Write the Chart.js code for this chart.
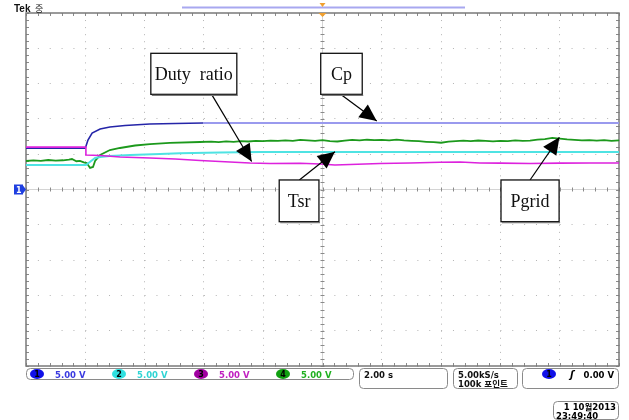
<!DOCTYPE html>
<html>
<head>
<meta charset="utf-8">
<script src="https://cdn.jsdelivr.net/npm/chart.js@4.4.0/dist/chart.umd.min.js"></script>
<style>body{margin:0;background:#fff}</style>
</head>
<body>
<canvas id="scope" width="629" height="420"></canvas>
<script>
// time in s (2 s/div, trigger at 0), value in V (5 V/div)
var cpTime = [-10, -8.0, -7.91, -7.77, -7.5, -7.17, -6.66, -5.82, -4.97, -4.03]
var cpVolt = [5.85, 5.85, 7.01, 8.0, 8.57, 8.85, 9.07, 9.28, 9.35, 9.42]
var cpHoldTime = [-4.03, 10]
var cpHoldVolt = [9.42, 9.42]

var tsrTime = [-10, -7.98, -7.67, -7.5, -7.17, -6.49, -5.48, -4.81, -3.46, -2.11, 10]
var tsrVolt = [3.47, 3.47, 4.46, 4.6, 4.75, 4.89, 5.03, 5.13, 5.24, 5.31, 5.31]

var dutyTime = [-10, -7.98, -7.98, -7.5, -6.83, -5.82, -4.97, -4.13, -3.12, -2.45, -1.77, -0.76, -0.08, 0.42, 0.93, 1.94, 2.95, 3.96, 4.64, 5.31, 5.99, 7.0, 8.01, 9.02, 10]
var dutyVolt = [6.0, 6.0, 4.89, 4.82, 4.6, 4.46, 4.32, 4.11, 3.9, 3.75, 3.68, 3.71, 3.61, 3.47, 3.54, 3.68, 3.75, 3.85, 3.9, 3.75, 3.73, 3.68, 3.73, 3.75, 3.75]

var pgridTime = [-10, -9.75, -9.5, -9.25, -9.0, -8.75, -8.55, -8.45, -8.3, -8.18, -8.05, -7.95, -7.84, -7.74, -7.67, -7.5, -7.17, -6.83, -6.32, -5.82, -5.15, -4.13,
  -3.75, -3.5, -3.25, -3.0, -2.75, -2.5, -2.25, -2.0, -1.75, -1.5, -1.25, -1.0, -0.75, -0.5, -0.25, 0.0,
  0.25, 0.5, 0.75, 1.0, 1.25, 1.5, 1.75, 2.0, 2.25, 2.5, 2.75, 3.0, 3.25, 3.5, 3.75, 4.0,
  4.25, 4.5, 4.75, 5.0, 5.25, 5.5, 5.75, 6.0, 6.25, 6.5, 6.75, 7.0, 7.25, 7.5, 7.75, 8.0,
  8.25, 8.5, 8.75, 9.0, 9.25, 9.5, 9.75, 10.0]
var pgridVolt = [4.04, 4.12, 4.06, 4.18, 4.10, 4.14, 4.22, 4.32, 4.0, 4.05, 3.85, 3.75, 3.05, 3.19, 4.04, 4.89, 5.59, 5.88, 6.23, 6.44, 6.59, 6.73,
  6.78, 6.72, 6.82, 6.76, 6.85, 6.80, 6.90, 6.84, 6.93, 6.88, 6.96, 6.90, 7.02, 6.95, 6.90, 6.98,
  6.85, 6.80, 6.92, 7.02, 6.96, 7.05, 6.98, 7.04, 6.97, 7.06, 6.95, 6.90, 6.84, 6.76, 6.70, 6.62,
  6.78, 6.85, 6.92, 6.86, 6.94, 6.88, 6.82, 6.90, 6.84, 6.95, 6.88, 6.92, 7.05, 7.15, 7.32, 7.22,
  7.10, 7.02, 6.96, 7.00, 6.92, 6.98, 6.90, 6.95]

function pts(t, v) {
  return t.map(function (x, i) { return {x: x, y: v[i]} })
}

function line(ctx, x1, y1, x2, y2) {
  ctx.beginPath(); ctx.moveTo(x1, y1); ctx.lineTo(x2, y2); ctx.stroke()
}

function rbox(ctx, x, y, w, h, r) {
  ctx.beginPath()
  ctx.moveTo(x + r, y)
  ctx.arcTo(x + w, y, x + w, y + h, r)
  ctx.arcTo(x + w, y + h, x, y + h, r)
  ctx.arcTo(x, y + h, x, y, r)
  ctx.arcTo(x, y, x + w, y, r)
  ctx.closePath()
  ctx.stroke()
}

// callout boxes, in data coordinates: [t1, v1, t2, v2], arrow from -> tip
var notes = [
  {text: 'Duty  ratio', box: [-5.79, 19.29, -2.89, 13.48], from: [-3.74, 13.48], tip: [-2.39, 3.97]},
  {text: 'Cp', box: [-0.06, 19.29, 1.34, 13.48], from: [0.61, 13.48], tip: [1.83, 9.70]},
  {text: 'Tsr', box: [-1.46, 1.35, -0.12, -4.56], from: [-0.78, 1.35], tip: [0.42, 5.35]},
  {text: 'Pgrid', box: [6.02, 1.35, 7.98, -4.56], from: [7.0, 1.35], tip: [7.99, 7.39]}
]

var scopeChrome = {
  id: 'scopeChrome',
  beforeDatasetsDraw: function (chart) {
    var ctx = chart.ctx, xs = chart.scales.x, ys = chart.scales.y, a = chart.chartArea
    var cx = xs.getPixelForValue(0), cy = ys.getPixelForValue(0)
    ctx.save()
    ctx.lineWidth = 1
    ctx.strokeStyle = '#d4d4d4'
    line(ctx, cx, a.top, cx, a.bottom)
    line(ctx, a.left, cy, a.right, cy)
    ctx.strokeStyle = '#8a8a8a'
    for (var t = -10; t <= 10.001; t += 0.4) {
      var x = Math.round(xs.getPixelForValue(t)) + 0.5
      line(ctx, x, cy - 2, x, cy + 2)
      line(ctx, x, a.top, x, a.top + 3)
      line(ctx, x, a.bottom - 3, x, a.bottom)
    }
    for (var v = -25; v <= 25.001; v += 1) {
      var y = Math.round(ys.getPixelForValue(v)) + 0.5
      line(ctx, cx - 2, y, cx + 2, y)
      line(ctx, a.left, y, a.left + 3, y)
      line(ctx, a.right - 3, y, a.right, y)
    }
    ctx.strokeStyle = '#7a7a7a'
    ctx.lineWidth = 1.5
    ctx.strokeRect(a.left, a.top, a.right - a.left, a.bottom - a.top)
    ctx.restore()
  },
  afterDraw: function (chart) {
    var ctx = chart.ctx, xs = chart.scales.x, ys = chart.scales.y, a = chart.chartArea
    ctx.save()

    // callouts
    notes.forEach(function (n) {
      var x1 = xs.getPixelForValue(n.box[0]), y1 = ys.getPixelForValue(n.box[1])
      var x2 = xs.getPixelForValue(n.box[2]), y2 = ys.getPixelForValue(n.box[3])
      var fx = xs.getPixelForValue(n.from[0]), fy = ys.getPixelForValue(n.from[1])
      var tx = xs.getPixelForValue(n.tip[0]), ty = ys.getPixelForValue(n.tip[1])
      ctx.strokeStyle = '#000'
      ctx.lineWidth = 1.2
      line(ctx, fx, fy, tx, ty)
      var ang = Math.atan2(ty - fy, tx - fx), L = 17, W = 8
      ctx.fillStyle = '#000'
      ctx.beginPath()
      ctx.moveTo(tx, ty)
      ctx.lineTo(tx - L * Math.cos(ang) + W * Math.sin(ang), ty - L * Math.sin(ang) - W * Math.cos(ang))
      ctx.lineTo(tx - L * Math.cos(ang) - W * Math.sin(ang), ty - L * Math.sin(ang) + W * Math.cos(ang))
      ctx.closePath()
      ctx.fill()
      ctx.fillStyle = '#fff'
      ctx.fillRect(x1, y1, x2 - x1, y2 - y1)
      ctx.strokeStyle = '#111'
      ctx.lineWidth = 1.3
      ctx.strokeRect(x1, y1, x2 - x1, y2 - y1)
      ctx.strokeStyle = '#777'
      line(ctx, x1 + 1, y2 + 1, x2 + 1, y2 + 1)
      ctx.fillStyle = '#111'
      ctx.font = '18px "Liberation Serif"'
      ctx.textAlign = 'center'
      ctx.textBaseline = 'middle'
      ctx.fillText(n.text, (x1 + x2) / 2, (y1 + y2) / 2 + 1)
    })

    // top row
    ctx.textAlign = 'left'
    ctx.textBaseline = 'alphabetic'
    ctx.fillStyle = '#111'
    ctx.font = 'bold 10px "Liberation Sans"'
    ctx.fillText('Tek', 14, 12)
    ctx.font = '9px "Noto Sans CJK KR"'
    ctx.fillText('중', 35, 12)
    ctx.strokeStyle = '#a8a8f0'
    ctx.lineWidth = 2
    line(ctx, 182, 7.5, 465, 7.5)
    var cx = xs.getPixelForValue(0)
    ctx.fillStyle = '#f0a030'
    ctx.beginPath(); ctx.moveTo(cx - 3, 3); ctx.lineTo(cx + 3, 3); ctx.lineTo(cx, 7); ctx.closePath(); ctx.fill()
    ctx.beginPath(); ctx.moveTo(cx - 4, a.top); ctx.lineTo(cx + 4, a.top); ctx.lineTo(cx, a.top + 4); ctx.closePath(); ctx.fill()

    // ch1 ground marker
    var gy = ys.getPixelForValue(0)
    ctx.fillStyle = '#1f3fe0'
    ctx.fillRect(14, gy - 5, 9, 10)
    ctx.beginPath(); ctx.moveTo(23, gy - 4); ctx.lineTo(26, gy); ctx.lineTo(23, gy + 4); ctx.closePath(); ctx.fill()
    ctx.fillStyle = '#fff'
    ctx.font = 'bold 8px "DejaVu Sans"'
    ctx.fillText('1', 16, gy + 3)

    // status bar
    ctx.strokeStyle = '#8a8a8a'
    ctx.lineWidth = 1
    rbox(ctx, 26.5, 368.5, 327, 11, 4)
    rbox(ctx, 359.5, 368.5, 88, 20, 4)
    rbox(ctx, 453.5, 368.5, 64, 20, 4)
    rbox(ctx, 522.5, 368.5, 96, 20, 4)
    rbox(ctx, 553.5, 401.5, 65, 18, 4)

    var chans = [['1', '#1010e8', '#3a3ae0', 37], ['2', '#30e0e0', '#30d4d4', 119],
      ['3', '#a000a0', '#c020c0', 201], ['4', '#10a010', '#20b020', 283]]
    chans.forEach(function (c) {
      ctx.fillStyle = c[1]
      ctx.beginPath(); ctx.ellipse(c[3], 374, 7, 5, 0, 0, Math.PI * 2); ctx.fill()
      ctx.fillStyle = '#000'
      ctx.font = 'bold 8px "DejaVu Sans"'
      ctx.textAlign = 'center'
      ctx.fillText(c[0], c[3], 377)
      ctx.textAlign = 'left'
      ctx.fillStyle = c[2]
      ctx.font = 'bold 8.5px "DejaVu Sans"'
      ctx.fillText('5.00 V', c[3] + 18, 377.5)
    })

    ctx.fillStyle = '#111'
    ctx.font = 'bold 8.5px "DejaVu Sans", "Noto Sans CJK KR"'
    ctx.fillText('2.00 s', 364, 377.5)
    ctx.fillText('5.00kS/s', 458, 377.5)
    ctx.fillText('100k 포인트', 458, 387)
    ctx.fillStyle = '#1010e8'
    ctx.beginPath(); ctx.ellipse(549, 374, 7, 5, 0, 0, Math.PI * 2); ctx.fill()
    ctx.fillStyle = '#000'
    ctx.font = 'bold 8px "DejaVu Sans"'
    ctx.textAlign = 'center'
    ctx.fillText('1', 549, 377)
    ctx.font = 'italic bold 10px "DejaVu Sans"'
    ctx.fillText('ʃ', 572, 378)
    ctx.textAlign = 'right'
    ctx.font = 'bold 8.5px "DejaVu Sans"'
    ctx.fillText('0.00 V', 614, 377.5)
    ctx.font = 'bold 8.5px "DejaVu Sans", "Noto Sans CJK KR"'
    ctx.fillText('1 10월2013', 616, 410)
    ctx.textAlign = 'left'
    ctx.fillText('23:49:40', 556, 418.5)
    ctx.restore()
  }
}

var ctx = document.getElementById('scope')
var scope = new Chart(ctx, {
  type: 'line',
  data: {
    datasets: [
      {label: 'Duty ratio', data: pts(dutyTime, dutyVolt), borderColor: '#dd22dd', borderWidth: 1.6, order: 1},
      {label: 'Tsr', data: pts(tsrTime, tsrVolt), borderColor: '#4fe3e3', borderWidth: 2, order: 2},
      {label: 'Pgrid', data: pts(pgridTime, pgridVolt), borderColor: '#1c991c', borderWidth: 1.8, order: 3},
      {label: 'Cp', data: pts(cpTime, cpVolt), borderColor: '#2525a8', borderWidth: 1.6, order: 4},
      {label: 'Cp hold', data: pts(cpHoldTime, cpHoldVolt), borderColor: '#9a9aee', borderWidth: 2.2, order: 5}
    ]
  },
  options: {
    responsive: false,
    animation: false,
    devicePixelRatio: 1,
    layout: {padding: {left: 26, top: 13, right: 10, bottom: 54}},
    elements: {point: {radius: 0}, line: {tension: 0}},
    plugins: {legend: {display: false}, tooltip: {enabled: false}},
    scales: {
      x: {
        type: 'linear', min: -10, max: 10,
        ticks: {display: false, stepSize: 2},
        grid: {color: '#b4b4b4', lineWidth: 1, drawTicks: false},
        border: {display: false, dash: [1, 6.06]},
        afterFit: function (s) { s.height = 0 }
      },
      y: {
        min: -25, max: 25,
        ticks: {display: false, stepSize: 5},
        grid: {color: '#b4b4b4', lineWidth: 1, drawTicks: false},
        border: {display: false, dash: [1, 10.86]},
        afterFit: function (s) { s.width = 0 }
      }
    }
  },
  plugins: [scopeChrome]
})
</script>
</body>
</html>
